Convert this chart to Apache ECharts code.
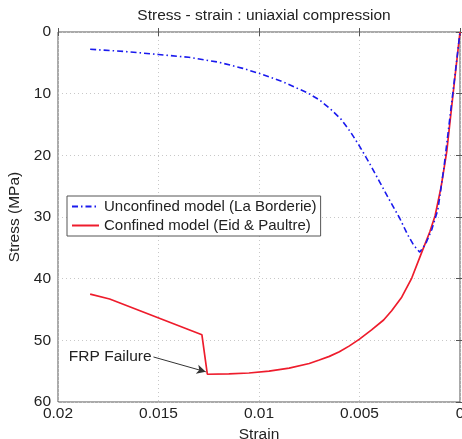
<!DOCTYPE html>
<html>
<head>
<meta charset="utf-8">
<script src="https://cdn.jsdelivr.net/npm/echarts@6/dist/echarts.min.js"></script>
<style>html,body{margin:0;padding:0;background:#fff}#c{width:462px;height:439px}</style>
</head>
<body>
<div id="c"></div>
<script>
const titleText = 'Stress - strain : uniaxial compression';
const xName = 'Strain';
const yName = 'Stress (MPa)';
const unconfinedName = 'Unconfined model (La Borderie)';
const confinedName = 'Confined model (Eid & Paultre)';
const annotationText = 'FRP Failure';

// [strain, stress MPa]
const unconfined = [
  [0.0184, 2.8], [0.0165, 3.2], [0.015, 3.65], [0.0135, 4.1], [0.012, 4.9], [0.0108, 5.9],
  [0.0099, 6.8], [0.0088, 8.1], [0.00757, 9.9], [0.007, 11.0], [0.00644, 12.5],
  [0.0059, 14.2], [0.00545, 16.2], [0.0050, 18.5], [0.0045, 21.3], [0.0040, 24.3],
  [0.0035, 27.3], [0.0030, 30.2], [0.0026, 32.9], [0.0023, 34.6], [0.0020, 35.7],
  [0.0017, 34.3], [0.0014, 32.0], [0.0011, 28.8], [0.0008, 22.0], [0.0005, 13.8],
  [0.00025, 7.0], [0, 0]
];
const confined = [
  [0.0184, 42.5], [0.01743, 43.3], [0.01284, 49.1], [0.01257, 55.5], [0.0115, 55.45],
  [0.0105, 55.3], [0.0095, 55.0], [0.0085, 54.5], [0.0075, 53.75], [0.007, 53.2],
  [0.0065, 52.6], [0.006, 51.85], [0.0055, 50.9], [0.005, 49.8], [0.0044, 48.3],
  [0.0038, 46.7], [0.0034, 45.2], [0.0029, 43.0], [0.0024, 39.9], [0.0019, 35.7],
  [0.0015, 32.4], [0.00124, 29.8], [0.00095, 25.3], [0.00066, 19.4], [0.00036, 10.5],
  [0, 0]
];
const annotationFrom = [0.01525, 52.7];
const annotationTo = [0.01265, 55.1];

const font = 'Liberation Sans, Arial, sans-serif';
const fs = 15.5;
const chart = echarts.init(document.getElementById('c'));
const baseAxis = {
  axisLine: {show: false},
  axisTick: {show: true, inside: true, length: 4, lineStyle: {color: '#555'}},
  splitLine: {show: true, lineStyle: {type: [1, 3], color: '#c8c8c8'}},
  axisLabel: {color: '#222', fontSize: fs, fontFamily: font}
};
chart.setOption({
  animation: false,
  backgroundColor: '#fff',
  title: {text: titleText, left: 259, textAlign: 'center', top: 3,
    textStyle: {fontSize: fs, fontWeight: 'normal', color: '#222', fontFamily: font}},
  grid: {left: 58, right: 2, top: 32, bottom: 37, show: true, borderColor: '#555', borderWidth: 1,
    containLabel: false, outerBoundsMode: 'none'},
  legend: {
    left: 67, top: 196, orient: 'vertical', itemWidth: 27, itemHeight: 14, itemGap: 4,
    padding: [3, 4, 3, 4], borderColor: '#555', borderWidth: 1, backgroundColor: '#fff',
    itemStyle: {opacity: 0},
    textStyle: {fontSize: 15, color: '#222', fontFamily: font},
    data: [unconfinedName, confinedName]
  },
  xAxis: [
    Object.assign({}, baseAxis, {type: 'value', inverse: true, min: 0, max: 0.02, interval: 0.005,
      name: xName, nameLocation: 'middle', nameGap: 19,
      nameTextStyle: {fontSize: fs, color: '#222', fontFamily: font},
      axisLabel: Object.assign({}, baseAxis.axisLabel, {margin: 4, formatter: v => String(+v.toFixed(3))})}),
    Object.assign({}, baseAxis, {type: 'value', position: 'top', inverse: true, min: 0, max: 0.02, interval: 0.005,
      axisLabel: {show: false}, splitLine: {show: false}})
  ],
  yAxis: [
    Object.assign({}, baseAxis, {type: 'value', inverse: true, min: 0, max: 60, interval: 10,
      name: yName, nameLocation: 'middle', nameGap: 34,
      nameTextStyle: {fontSize: fs, color: '#222', fontFamily: font},
      axisLabel: Object.assign({}, baseAxis.axisLabel, {margin: 7})}),
    Object.assign({}, baseAxis, {type: 'value', position: 'right', inverse: true, min: 0, max: 60, interval: 10,
      axisLabel: {show: false}, splitLine: {show: false}})
  ],
  series: [
    {name: unconfinedName, type: 'line', data: unconfined, symbol: 'none', smooth: false,
      lineStyle: {color: '#1a1aee', width: 1.6, type: [6, 3, 1.5, 3]}, itemStyle: {color: '#1a1aee'}, z: 3},
    {name: confinedName, type: 'line', data: confined, symbol: 'none', smooth: false,
      lineStyle: {color: '#ee1c2c', width: 1.7}, itemStyle: {color: '#ee1c2c'}, z: 2,
      markLine: {
        silent: true, symbol: ['none', 'arrow'], symbolSize: [7, 9],
        lineStyle: {color: '#333', width: 1, type: 'solid'},
        label: {show: true, position: 'start', formatter: annotationText, color: '#222',
          fontSize: fs, fontFamily: font, distance: 2},
        data: [[{coord: annotationFrom}, {coord: annotationTo}]]
      }}
  ]
});
</script>
</body>
</html>
